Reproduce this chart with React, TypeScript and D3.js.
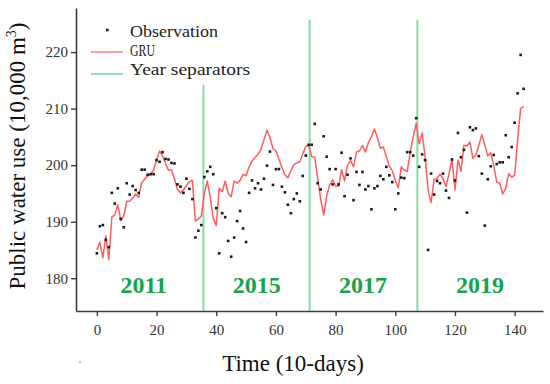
import React, { useEffect, useRef } from 'react';
import * as d3 from 'd3';

// observed public water use, one value per 10-day step (index 0..143)
const observation = [
  184.4, 189.2, 189.4, 186.8, 185.5, 195.1, 193.2, 195.9, 190.5, 189.0,
  196.8, 194.8, 196.3, 195.6, 195.1, 199.2, 199.2, 198.3, 198.4, 198.4,
  200.9, 200.6, 202.3, 201.1, 201.0, 200.4, 200.3, 196.6, 196.2, 195.1,
  197.6, 195.8, 194.0, 187.2, 188.4, 189.4, 197.9, 198.9, 199.7, 198.4,
  192.4, 184.4, 191.5, 190.8, 186.6, 183.8, 187.2, 190.1, 191.9, 188.8,
  186.4, 195.1, 197.3, 195.9, 196.8, 195.7, 197.6, 199.9, 202.4, 196.5,
  199.3, 199.3, 196.2, 195.2, 193.0, 191.5, 194.0, 195.0, 193.6, 198.1,
  201.7, 203.6, 203.6, 207.3, 196.8, 195.7, 205.1, 201.5, 199.3, 196.6,
  199.3, 196.6, 202.2, 194.5, 198.3, 201.2, 193.8, 198.8, 196.5, 198.8,
  195.7, 196.3, 192.2, 195.9, 196.3, 198.1, 197.5, 199.7, 198.2, 197.0,
  192.2, 195.0, 197.8, 197.7, 202.3, 202.3, 201.7, 208.3, 199.7, 201.9,
  200.9, 185.0, 198.5, 194.8, 197.2, 196.8, 198.5, 195.5, 194.2, 201.0,
  197.3, 205.7, 201.4, 202.7, 191.6, 206.7, 206.2, 206.5, 201.6, 198.5,
  189.3, 197.5, 199.8, 201.8, 200.2, 200.5, 200.5, 205.3, 201.4, 203.2,
  207.5, 212.7, 219.5, 213.5
];

// GRU model output
const gru = [
  185.0, 186.4, 183.6, 187.5, 183.3, 190.8, 191.2, 193.0, 190.2, 191.0,
  193.6, 193.6, 194.2, 194.9, 194.3, 196.9, 197.5, 198.1, 198.4, 199.1,
  200.9, 202.5, 201.7, 200.3, 199.1, 199.2, 197.6, 195.7, 195.1, 195.6,
  196.4, 197.1, 197.3, 190.1, 190.5, 191.0, 195.0, 197.2, 194.2, 190.6,
  189.3, 195.9, 195.3, 197.2, 195.0, 194.4, 197.2, 196.8, 197.3, 198.4,
  198.1, 199.7, 200.7, 201.4, 201.9, 202.8, 204.5, 206.2, 204.9, 202.9,
  202.5, 201.1, 199.6, 198.3, 197.8, 199.0, 200.1, 200.4, 200.6, 202.0,
  203.3, 203.5, 201.5, 201.4, 197.6, 194.0, 191.2, 194.6, 196.5, 197.4,
  196.3, 196.3, 199.2, 197.2, 200.0, 200.8, 199.7, 202.3, 202.5, 203.5,
  202.3, 204.0, 205.0, 206.4, 204.9, 203.0, 203.2, 201.5, 199.8, 199.0,
  197.3, 196.0, 199.7, 199.1, 198.9, 202.3, 205.0, 207.4, 203.8, 205.7,
  201.5, 195.5, 193.4, 197.5, 197.6, 198.4, 197.6, 196.2, 198.5, 201.1,
  195.6, 200.9, 198.9, 203.5, 203.4, 204.1, 201.2, 201.8, 203.5, 205.4,
  203.6, 201.6, 202.2, 199.9, 197.0, 196.8, 194.9, 195.9, 198.5, 197.9,
  198.2, 204.5, 210.0, 210.4
];

const separatorX = [35.7, 71.3, 107.4];
const separatorTop = [214.2, 225.7, 225.7];
const yearLabels = ['2011', '2015', '2017', '2019'];
const yearLabelX = [15.7, 53.6, 89.2, 128.4];
const xTicks = [0, 20, 40, 60, 80, 100, 120, 140];
const yTicks = [180, 190, 200, 210, 220];

const legendItems = ['Observation', 'GRU', 'Year separators'];

export default function App() {
  const $svg = useRef(null);
  const width = 550;
  const height = 384;

  useEffect(() => {
    const margin = { top: 8, right: 7, bottom: 73, left: 76 };
    const serif = '"Liberation Serif", "Times New Roman", serif';
    const axisColor = '#3c3c3c';
    const green = '#16a34a';

    const x = d3
      .scaleLinear()
      .domain([-7, 149.5])
      .range([margin.left, width - margin.right]);
    const y = d3
      .scaleLinear()
      .domain([174.2, 227.8])
      .range([height - margin.bottom, margin.top]);

    const svg = d3.select($svg.current);
    svg.selectAll('*').remove();

    // year separators
    svg
      .append('g')
      .selectAll('line')
      .data(separatorX)
      .enter()
      .append('line')
      .attr('x1', d => x(d))
      .attr('x2', d => x(d))
      .attr('y1', (d, i) => y(separatorTop[i]))
      .attr('y2', y(174.2))
      .attr('stroke', '#86dca6')
      .attr('stroke-width', 2);

    // year labels
    svg
      .append('g')
      .selectAll('text')
      .data(yearLabels)
      .enter()
      .append('text')
      .attr('x', (d, i) => x(yearLabelX[i]))
      .attr('y', 293)
      .attr('text-anchor', 'middle')
      .attr('font-family', serif)
      .attr('font-weight', 'bold')
      .attr('font-size', 24)
      .attr('fill', green)
      .text(d => d);

    // GRU line
    const line = d3
      .line()
      .x((d, i) => x(i))
      .y(d => y(d));
    svg
      .append('path')
      .datum(gru)
      .attr('d', line)
      .attr('fill', 'none')
      .attr('stroke', '#ff5e5e')
      .attr('stroke-width', 1.5)
      .attr('stroke-linejoin', 'round');

    // observations
    svg
      .append('g')
      .selectAll('rect')
      .data(observation)
      .enter()
      .append('rect')
      .attr('x', (d, i) => x(i) - 1.3)
      .attr('y', d => y(d) - 1.3)
      .attr('width', 2.6)
      .attr('height', 2.6)
      .attr('fill', '#1a1a1a');

    // axes
    const xAxis = svg
      .append('g')
      .attr('transform', `translate(0,${height - margin.bottom})`)
      .call(d3.axisBottom(x).tickValues(xTicks).tickSize(5).tickSizeOuter(0));
    const yAxis = svg
      .append('g')
      .attr('transform', `translate(${margin.left},0)`)
      .call(d3.axisLeft(y).tickValues(yTicks).tickSize(5).tickSizeOuter(0));

    [xAxis, yAxis].forEach(g => {
      g.select('.domain').attr('stroke', axisColor).attr('stroke-width', 1.6);
      g.selectAll('.tick line').attr('stroke', axisColor).attr('stroke-width', 1.4);
      g.selectAll('.tick text')
        .attr('font-family', serif)
        .attr('font-size', 15)
        .attr('fill', '#333');
    });
    xAxis.selectAll('.tick text').attr('dy', '1.05em');
    yAxis.selectAll('.tick text').attr('x', -8);

    // axis titles
    svg
      .append('text')
      .attr('x', 293)
      .attr('y', 371)
      .attr('text-anchor', 'middle')
      .attr('font-family', serif)
      .attr('font-size', 23)
      .attr('fill', '#111')
      .text('Time (10-days)');

    const yTitle = svg
      .append('text')
      .attr('transform', 'translate(25,156) rotate(-90)')
      .attr('text-anchor', 'middle')
      .attr('font-family', serif)
      .attr('font-size', 23)
      .attr('fill', '#111');
    yTitle.append('tspan').text('Public water use (10,000 m');
    yTitle.append('tspan').attr('font-size', 14).attr('dy', -9).text('3');
    yTitle.append('tspan').attr('dy', 9).text(')');

    // legend
    const legend = svg.append('g');
    const rowY = [33, 52, 71];
    const textLen = [88, 25, 120];
    legend
      .append('rect')
      .attr('x', 106)
      .attr('y', rowY[0] - 4.3)
      .attr('width', 2.6)
      .attr('height', 2.6)
      .attr('fill', '#1a1a1a');
    legend
      .append('line')
      .attr('x1', 91)
      .attr('x2', 123)
      .attr('y1', rowY[1])
      .attr('y2', rowY[1])
      .attr('stroke', '#ff7a7a')
      .attr('stroke-width', 1.5);
    legend
      .append('line')
      .attr('x1', 91)
      .attr('x2', 123)
      .attr('y1', rowY[2] + 3)
      .attr('y2', rowY[2] + 3)
      .attr('stroke', '#6fd39a')
      .attr('stroke-width', 1.5);
    legend
      .selectAll('text')
      .data(legendItems)
      .enter()
      .append('text')
      .attr('x', 130)
      .attr('y', (d, i) => rowY[i] + 4)
      .attr('font-family', serif)
      .attr('font-size', 16)
      .attr('fill', '#222')
      .attr('textLength', (d, i) => textLen[i])
      .attr('lengthAdjust', 'spacingAndGlyphs')
      .text(d => d);

    // stray mark from the original figure
    svg
      .append('circle')
      .attr('cx', 80)
      .attr('cy', 362)
      .attr('r', 0.8)
      .attr('fill', '#777');
  }, []);

  return (
    <svg
      ref={$svg}
      width={width}
      height={height}
      style={{ position: 'absolute', left: 0, top: 0, background: '#fff' }}
    />
  );
}
